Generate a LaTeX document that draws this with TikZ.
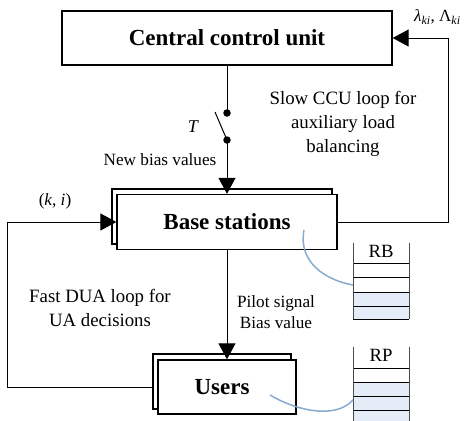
\documentclass[tikz,border=0pt]{standalone}
\usepackage{fontspec}
\setmainfont{Liberation Serif}
\usetikzlibrary{arrows.meta}
\definecolor{cellblue}{HTML}{E3ECF7}
\definecolor{curveblue}{HTML}{86AAD0}
\begin{document}
\begin{tikzpicture}[x=1pt,y=-1pt,
 box/.style={draw, line width=1.3pt, fill=white, inner sep=0pt, font=\fontsize{23}{27}\selectfont\bfseries},
 conn/.style={line width=1pt},
 arr/.style={conn, -{Triangle[length=16pt,width=17pt]}},
 lbl/.style={font=\fontsize{17.2}{21}\selectfont, align=center, inner sep=0pt},
 looplbl/.style={font=\fontsize{18.8}{24}\selectfont, align=center, inner sep=0pt},
 dot/.style={circle, fill, inner sep=0pt, minimum size=7.5pt},
 stackline/.style={line width=1pt},
 stackside/.style={line width=1pt, draw=black!70},
 curve/.style={draw=curveblue, line width=1.5pt}
]
\useasboundingbox (0,0) rectangle (464,421);

% boxes
\node[box, minimum width=330pt, minimum height=54pt] (ccu) at (227,38) {Central control unit};
\node[box, minimum width=220pt, minimum height=55pt] (bsb) at (222,216.5) {};
\node[box, minimum width=220pt, minimum height=55pt] (bsf) at (227,222) {Base stations};
\node[box, minimum width=138pt, minimum height=55pt] (usb) at (222,381.5) {};
\node[box, minimum width=138pt, minimum height=54pt] (usf) at (227,387) {};
\node[font=\fontsize{23}{27}\selectfont\bfseries, inner sep=0pt] (ustxt) at (222,387) {Users};

% switch
\node[dot] (s1) at (227,113) {};
\node[dot] (s2) at (227,140) {};
\coordinate (lev) at (215,112);
\draw[conn] (ccu.south) -- (s1.center);
\draw[conn] (lev) -- (s2.center);
\draw[arr] (s2.center) -- (bsf.north);

% down arrow
\draw[arr] (bsf.south) -- (usf.north);

% slow loop
\draw[arr] (bsf.east) -- ++(111,0) |- (ccu.east);
% fast loop
\draw[arr] (usb.west |- usf.center) -- (7,387) |- (bsf.west);

% labels
\node[font=\fontsize{18}{22}\selectfont\itshape, inner sep=0pt] (tl) at (193,127) {T};
\node[lbl] (nbv) at (160,160) {New bias values};
\node[looplbl] (slow) at (343,124) {Slow CCU loop for\\auxiliary load\\balancing};
\node[lbl, font=\fontsize{17.2}{21}\selectfont] (ki) at (55,201) {(\textit{k}, \textit{i})};
\node[looplbl] (fast) at (100,307.5) {Fast DUA loop for\\UA decisions};
\node[lbl] (pilot) at (276,312.5) {Pilot signal\\Bias value};
\node[anchor=west, inner sep=0pt, font=\fontsize{17}{20}\selectfont] (lam) at (414,17) {{\itshape λ}\textsubscript{\itshape ki}, Λ\textsubscript{\itshape ki}};

% RB stack
\fill[cellblue] (353,292) rectangle (409,319);
\foreach \yy in {263,277,292,306,319} \draw[stackline] (353,\yy) -- (409,\yy);
\draw[stackside] (353,243) -- (353,319) (409,243) -- (409,319);
\node[lbl, font=\fontsize{18.7}{22}\selectfont] (rb) at (381,251) {RB};

% RP stack
\fill[cellblue] (353,382) rectangle (409,421);
\foreach \yy in {368,382,396,410} \draw[stackline] (353,\yy) -- (409,\yy);
\draw[stackside] (353,347) -- (353,421) (409,347) -- (409,421);
\node[lbl, font=\fontsize{18.7}{22}\selectfont] (rp) at (381,355) {RP};

% curves
\coordinate (rbin) at (353,285);
\coordinate (rpin) at (353,400);
\coordinate (bscur) at (304,230);
\coordinate (uscur) at (270,395);
\draw[curve] (bscur) .. controls (298,262) and (325,280) .. (rbin);
\draw[curve] (uscur) .. controls (295,410) and (335,420) .. (rpin);
\end{tikzpicture}
\end{document}
